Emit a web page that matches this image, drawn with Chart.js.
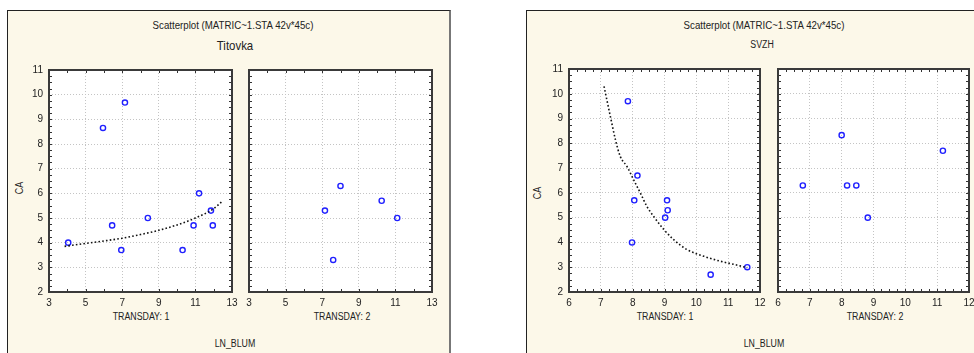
<!DOCTYPE html>
<html lang="en">
<head>
<meta charset="UTF-8">
<title>Scatterplot CA vs LN_BLUM</title>
<script src="https://cdn.jsdelivr.net/npm/chart.js"></script>
<style>
  html, body { margin: 0; padding: 0; background: #fff; }
  body { width: 974px; height: 353px; position: relative; overflow: hidden;
         font-family: "Liberation Sans", Arial, sans-serif; color: #222; }
  .panel { position: absolute; top: 10px; height: 360px; background: #fcf8e9;
           border: 1px solid #222; box-sizing: border-box; }
  .txt { position: absolute; white-space: nowrap; transform: translate(-50%, -50%) scaleX(0.88);
         font-size: 10px; }
  .head { font-size: 11px; }
  .big { font-size: 13px; }
  .rot { transform: translate(-50%, -50%) rotate(-90deg) scaleX(0.9); }
  canvas { position: absolute; }
</style>
</head>
<body>
<div class="panel" style="left:7px; width:444px; border-right:2px solid #777;"></div>
<div class="panel" style="left:526px; width:480px;"></div>

<div class="txt head" style="left:233px; top:25px;">Scatterplot (MATRIC~1.STA 42v*45c)</div>
<div class="txt big" style="left:235px; top:45px;">Titovka</div>
<div class="txt rot" style="left:19px; top:188px;">CA</div>
<div class="txt" style="left:141px; top:316px;">TRANSDAY: 1</div>
<div class="txt" style="left:342px; top:316px;">TRANSDAY: 2</div>
<div class="txt" style="left:235px; top:343px;">LN_BLUM</div>

<div class="txt head" style="left:764px; top:25px;">Scatterplot (MATRIC~1.STA 42v*45c)</div>
<div class="txt" style="left:762px; top:44px;">SVZH</div>
<div class="txt rot" style="left:537px; top:193px;">CA</div>
<div class="txt" style="left:665px; top:316px;">TRANSDAY: 1</div>
<div class="txt" style="left:875px; top:316px;">TRANSDAY: 2</div>
<div class="txt" style="left:764px; top:343px;">LN_BLUM</div>

<canvas id="tit1"></canvas>
<canvas id="tit2"></canvas>
<canvas id="svz1"></canvas>
<canvas id="svz2"></canvas>

<script>
// Titovka, TRANSDAY 1
const titDay1X = [4.05, 5.95, 7.15, 6.45, 6.95, 8.4, 10.3, 10.9, 11.2, 11.85, 11.95];
const titDay1Y = [4.0, 8.65, 9.68, 4.7, 3.7, 5.0, 3.7, 4.7, 6.0, 5.3, 4.7];
// fitted curve
const titFitX = [3.85, 5, 6, 7, 8, 9, 10, 11, 12, 12.5];
const titFitY = [3.85, 3.97, 4.07, 4.18, 4.33, 4.5, 4.72, 5.0, 5.38, 5.7];
// Titovka, TRANSDAY 2
const titDay2X = [8.0, 7.15, 10.25, 11.1, 7.6];
const titDay2Y = [6.3, 5.3, 5.7, 5.0, 3.3];

// SVZH, TRANSDAY 1
const svzDay1X = [7.85, 8.15, 8.05, 9.08, 9.1, 9.02, 7.98, 10.45, 11.6];
const svzDay1Y = [9.7, 6.7, 5.7, 5.7, 5.3, 5.0, 4.0, 2.7, 3.0];
const svzFitX = [7.1, 7.3, 7.46, 7.61, 7.82, 8.03, 8.24, 8.45, 8.66, 8.98, 9.29, 9.71, 10.24, 10.76, 11.23, 11.6];
const svzFitY = [10.3, 9.08, 8.14, 7.47, 7.07, 6.53, 6.0, 5.45, 5.05, 4.52, 4.11, 3.71, 3.44, 3.24, 3.1, 2.98];
// SVZH, TRANSDAY 2
const svzDay2X = [6.78, 8.0, 8.17, 8.46, 8.82, 11.18];
const svzDay2Y = [6.3, 8.33, 6.3, 6.3, 5.0, 7.7];

// tick labels
const caTicks = [2, 3, 4, 5, 6, 7, 8, 9, 10, 11];
const titDayTicks = [3, 5, 7, 9, 11, 13];
const svzDayTicks = [6, 7, 8, 9, 10, 11, 12];

const pts = (xs, ys) => xs.map((x, i) => ({ x: x, y: ys[i] }));

const Y_W = 26, PAD_T = 6, PAD_R = 8, X_H = 20;

// white plot area, dark frame and inward minor ticks
const framePlugin = {
    id: 'frame',
    beforeDraw(chart) {
        const a = chart.chartArea, c = chart.ctx;
        c.save();
        c.fillStyle = '#ffffff';
        c.fillRect(a.left, a.top, a.right - a.left, a.bottom - a.top);
        c.restore();
    },
    afterDraw(chart, args, opts) {
        const a = chart.chartArea, c = chart.ctx;
        const xs = chart.scales.x, ys = chart.scales.y;
        c.save();
        c.strokeStyle = '#333';
        c.lineWidth = 1;
        c.beginPath();
        for (let v = xs.min; v <= xs.max + 1e-9; v += opts.xStep) {
            const p = Math.round(xs.getPixelForValue(v)) + 0.5;
            c.moveTo(p, a.bottom); c.lineTo(p, a.bottom - 3);
            c.moveTo(p, a.top); c.lineTo(p, a.top + 3);
        }
        for (let v = ys.min; v <= ys.max + 1e-9; v += opts.yStep) {
            const p = Math.round(ys.getPixelForValue(v)) + 0.5;
            c.moveTo(a.left, p); c.lineTo(a.left + 3, p);
            c.moveTo(a.right, p); c.lineTo(a.right - 3, p);
        }
        c.stroke();
        c.strokeStyle = '#3a3a3a';
        c.lineWidth = 2;
        c.strokeRect(a.left, a.top, a.right - a.left, a.bottom - a.top);
        c.restore();
    }
};

function makeChart(id, plotLeft, plotTop, plotW, plotH, datasets, xMin, xMax, xTicks, xStep, showY) {
    const cv = document.getElementById(id);
    const w = Y_W + plotW + PAD_R, h = PAD_T + plotH + X_H;
    cv.style.left = (plotLeft - Y_W) + 'px';
    cv.style.top = (plotTop - PAD_T) + 'px';
    cv.style.width = w + 'px';
    cv.style.height = h + 'px';
    cv.width = w; cv.height = h;
    const tickFont = { family: '"Liberation Sans", Arial', size: 10 };
    return new Chart(cv, {
        type: 'scatter',
        data: { datasets: datasets },
        options: {
            responsive: false,
            animation: false,
            layout: { padding: { top: PAD_T, right: PAD_R, left: 0, bottom: 0 } },
            plugins: {
                legend: { display: false },
                tooltip: { enabled: false },
                frame: { xStep: xStep, yStep: 0.25 }
            },
            scales: {
                x: {
                    type: 'linear', min: xMin, max: xMax,
                    afterBuildTicks: s => { s.ticks = xTicks.map(v => ({ value: v })); },
                    afterFit: s => { s.height = X_H; s.paddingLeft = 0; s.paddingRight = 0; },
                    grid: { color: '#c4c4c4', lineWidth: 1, drawTicks: false },
                    border: { display: false, dash: [1, 2] },
                    ticks: { padding: 5, color: '#222', font: tickFont, maxRotation: 0, autoSkip: false }
                },
                y: {
                    type: 'linear', min: 2, max: 11,
                    afterBuildTicks: s => { s.ticks = caTicks.map(v => ({ value: v })); },
                    afterFit: s => { s.width = Y_W; s.paddingTop = 0; s.paddingBottom = 0; },
                    grid: { color: '#c4c4c4', lineWidth: 1, drawTicks: false },
                    border: { display: false, dash: [1, 2] },
                    ticks: { display: showY, padding: 6, color: '#222', font: tickFont, autoSkip: false }
                }
            }
        },
        plugins: [framePlugin]
    });
}

const pointStyle = {
    showLine: false, pointRadius: 2.6, pointBorderWidth: 1.4,
    pointBorderColor: '#1f1fff', pointBackgroundColor: 'rgba(0,0,0,0)'
};
const fitStyle = {
    showLine: true, pointRadius: 0, borderColor: '#111', borderWidth: 1.6,
    borderDash: [1.6, 2.2], cubicInterpolationMode: 'monotone', fill: false
};

makeChart('tit1', 49, 70, 183, 222, [
    Object.assign({ data: pts(titFitX, titFitY) }, fitStyle),
    Object.assign({ data: pts(titDay1X, titDay1Y) }, pointStyle)
], 3, 13, titDayTicks, 1, true);

makeChart('tit2', 249, 70, 183, 222, [
    Object.assign({ data: pts(titDay2X, titDay2Y) }, pointStyle)
], 3, 13, titDayTicks, 1, false);

makeChart('svz1', 569, 69, 191, 223, [
    Object.assign({ data: pts(svzFitX, svzFitY) }, fitStyle),
    Object.assign({ data: pts(svzDay1X, svzDay1Y) }, pointStyle)
], 6, 12, svzDayTicks, 0.25, true);

makeChart('svz2', 778, 69, 191, 223, [
    Object.assign({ data: pts(svzDay2X, svzDay2Y) }, pointStyle)
], 6, 12, svzDayTicks, 0.25, false);
</script>
</body>
</html>
